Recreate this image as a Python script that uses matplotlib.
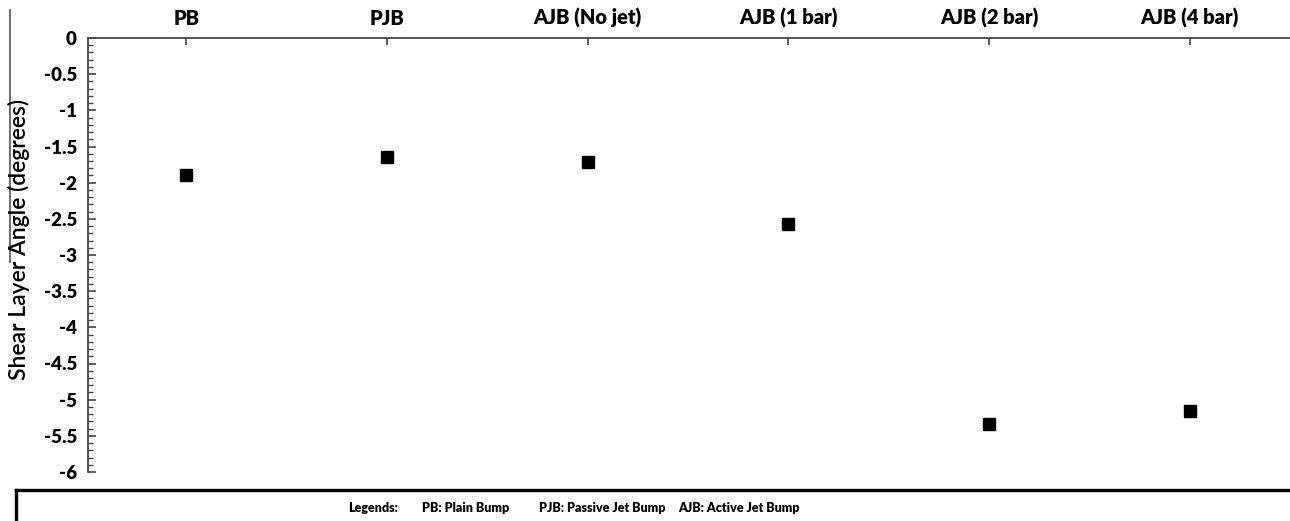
import matplotlib.pyplot as plt
from matplotlib.lines import Line2D
from matplotlib.ticker import MultipleLocator

plt.rcParams['font.family'] = ['Lato', 'DejaVu Sans']

# configurations and measured shear layer angle
configs = ['PB', 'PJB', 'AJB (No jet)', 'AJB (1 bar)', 'AJB (2 bar)', 'AJB (4 bar)']
angle = [-1.89, -1.64, -1.71, -2.57, -5.33, -5.16]

fig = plt.figure(figsize=(12.9, 5.21), dpi=100)
ax = fig.add_axes([88 / 1290, 49 / 521, 1 - 88 / 1290, 434 / 521])

x = range(len(configs))
ax.plot(x, angle, 's', color='black', markersize=9, linestyle='none')

ax.set_xlim(-0.49, 5.5)
ax.set_ylim(-6, 0)

# category labels along the top
ax.xaxis.tick_top()
ax.set_xticks(list(x))
ax.set_xticklabels(configs, fontsize=14.5, fontweight='heavy')
ax.tick_params(axis='x', direction='in', length=5, width=1.2, pad=7, colors='#444444', labelcolor='black')

ax.yaxis.set_minor_locator(MultipleLocator(0.1))
ax.set_yticks([-6, -5.5, -5, -4.5, -4, -3.5, -3, -2.5, -2, -1.5, -1, -0.5, 0])
ax.set_yticklabels(['-6', '-5.5', '-5', '-4.5', '-4', '-3.5', '-3', '-2.5', '-2', '-1.5', '-1', '-0.5', '0'],
                   fontsize=13.5, fontweight='heavy')
ax.tick_params(axis='y', which='major', direction='in', length=6, width=1.2, pad=8, colors='#444444', labelcolor='black')
ax.tick_params(axis='y', which='minor', direction='in', length=3.5, width=1, colors='#444444')
ax.tick_params(right=False, bottom=False, which='both')

for side in ['bottom', 'right']:
    ax.spines[side].set_visible(False)
for side in ['top', 'left']:
    ax.spines[side].set_color('#444444')
    ax.spines[side].set_linewidth(1.3)

fig.text(19 / 1290, 1 - 239 / 521, 'Shear Layer Angle (degrees)', rotation=90,
         ha='center', va='center', fontsize=16.5, fontweight='semibold')

# thin frame line on the left
fig.add_artist(Line2D([10 / 1290, 10 / 1290], [1 - 10 / 521, 1 - 262 / 521],
                      color='#555555', linewidth=1.2, transform=fig.transFigure))

# legend box
fig.add_artist(Line2D([16 / 1290, 1.0], [1 - 490 / 521, 1 - 490 / 521],
                      color='black', linewidth=2.4, transform=fig.transFigure))
fig.add_artist(Line2D([16 / 1290, 16 / 1290], [1 - 490 / 521, 0],
                      color='black', linewidth=2.4, transform=fig.transFigure))

legend_items = [('Legends:', 348), ('PB: Plain Bump', 422),
                ('PJB: Passive Jet Bump', 539), ('AJB: Active Jet Bump', 678)]
for txt, px in legend_items:
    fig.text(px / 1290, 1 - 508 / 521, txt, ha='left', va='center',
             fontsize=9, fontweight='heavy')

fig.savefig('out.png', dpi=100)
